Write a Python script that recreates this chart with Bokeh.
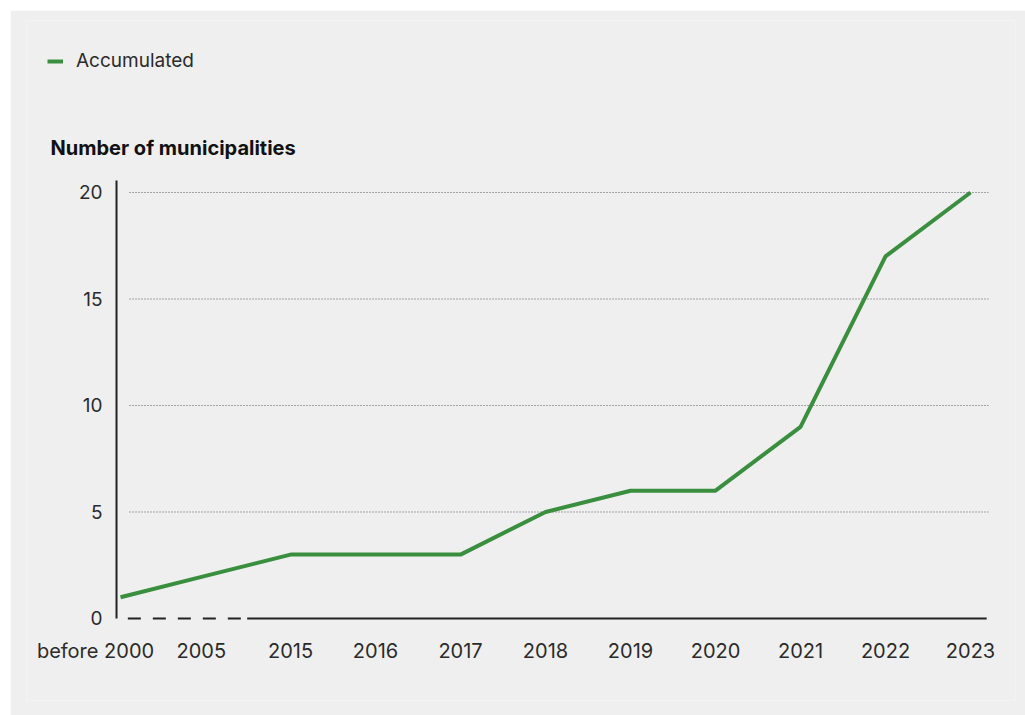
from bokeh.plotting import figure
from bokeh.models import Range1d, Label, Legend, LegendItem, FixedTicker, ColumnDataSource
from bokeh.embed import file_html
from bokeh.resources import INLINE

categories = ["before 2000", "2005", "2015", "2016", "2017", "2018", "2019", "2020", "2021", "2022", "2023"]
accumulated = [1, 2, 3, 3, 3, 5, 6, 6, 9, 17, 20]
y_ticks = [0, 5, 10, 15, 20]
grid_levels = [5, 10, 15, 20]

FONT = "Inter"
GREEN = "#3a8f3f"
BG = "#efefef"
TXT = "#2b2b2b"

idx = list(range(len(categories)))
# label position of the first categories is shifted left so they do not collide
label_pos = [-0.294, 0.95] + idx[2:]

p = figure(width=1015, height=705, output_backend="svg", toolbar_location=None,
           x_range=Range1d(-1.106, 10.529), y_range=Range1d(-3.85, 28.075),
           min_border_left=16, min_border_right=10, min_border_top=10, min_border_bottom=15,
           background_fill_color=BG, border_fill_color=BG, outline_line_color=None)
p.margin = (10, 0, 0, 10)
p.grid.visible = False

# y axis (fixed at the first category position)
p.yaxis.fixed_location = -0.047
p.yaxis.ticker = FixedTicker(ticks=y_ticks)
p.yaxis.axis_line_color = None
p.yaxis.major_tick_line_color = None
p.yaxis.minor_tick_line_color = None
p.yaxis.major_label_standoff = 8
p.yaxis.major_label_text_font = FONT
p.yaxis.major_label_text_font_size = "19px"
p.yaxis.major_label_text_color = TXT

# x axis (fixed at zero)
p.xaxis.fixed_location = 0
p.xaxis.ticker = FixedTicker(ticks=label_pos)
p.xaxis.major_label_overrides = {pos: c for pos, c in zip(label_pos, categories)}
p.xaxis.axis_line_color = None
p.xaxis.major_tick_line_color = None
p.xaxis.minor_tick_line_color = None
p.xaxis.major_label_standoff = 15
p.xaxis.major_label_text_font = FONT
p.xaxis.major_label_text_font_size = "20px"
p.xaxis.major_label_text_color = TXT

# y axis line
p.segment(x0=[-0.047], x1=[-0.047], y0=[0], y1=[20.56], line_color="#222222", line_width=2)

# dotted gridlines
p.segment(x0=[0.106] * len(grid_levels), x1=[10.21] * len(grid_levels),
          y0=grid_levels, y1=grid_levels, line_color="#555555", line_width=1, line_dash="1 2")

# custom x axis line: dashed then solid
p.segment(x0=[0.086], x1=[1.42], y0=[0], y1=[0], line_color="#222222", line_width=2, line_dash="13 12")
p.segment(x0=[1.49], x1=[10.19], y0=[0], y1=[0], line_color="#222222", line_width=2)

src = ColumnDataSource(dict(x=idx, y=accumulated))
r = p.line("x", "y", source=src, line_color=GREEN, line_width=4)

p.add_layout(Label(x=-0.8235, y=22.1, text="Number of municipalities", text_align="left",
                   text_baseline="alphabetic", text_font=FONT, text_font_size="20px",
                   text_font_style="bold", text_color="#111111"))

legend = Legend(items=[LegendItem(label="Accumulated", renderers=[r])],
                location=(21, 628), orientation="horizontal",
                padding=0, margin=0, spacing=0, glyph_width=16, glyph_height=16,
                label_height=16, label_standoff=13,
                label_text_font=FONT, label_text_font_size="19px", label_text_color=TXT,
                border_line_color=None, background_fill_alpha=0)
p.add_layout(legend, "center")

open("out.html", "w").write(file_html(p, INLINE))
